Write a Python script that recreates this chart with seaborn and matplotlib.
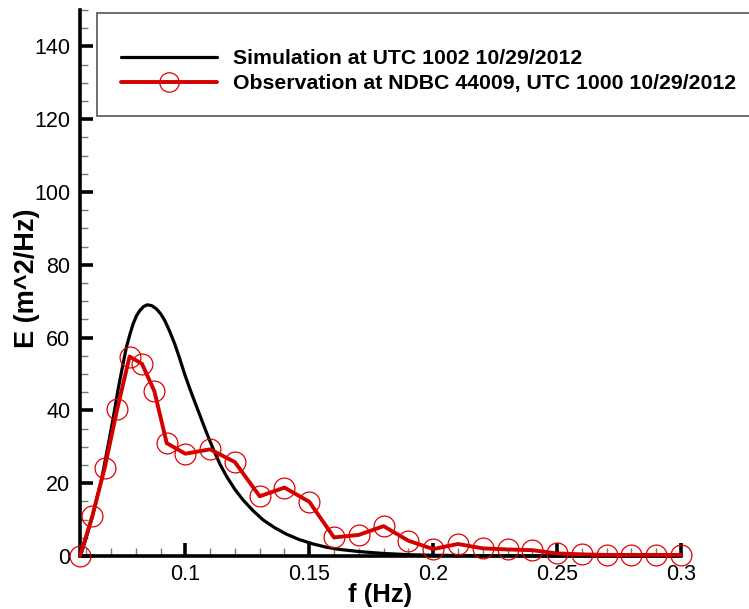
import numpy as np
import pandas as pd
import matplotlib
matplotlib.use("Agg")
import matplotlib.pyplot as plt
import matplotlib.patches as mpatches
import seaborn as sns
from matplotlib.ticker import MultipleLocator

# Observation (NDBC 44009) frequencies and energies
obs_f = [0.0575, 0.0625, 0.0675, 0.0725, 0.0775, 0.0825, 0.0875, 0.0925,
         0.10, 0.11, 0.12, 0.13, 0.14, 0.15, 0.16, 0.17, 0.18, 0.19, 0.20,
         0.21, 0.22, 0.23, 0.24, 0.25, 0.26, 0.27, 0.28, 0.29, 0.30]
obs_E = [0.0, 11.0, 24.3, 40.3, 54.8, 52.8, 45.3, 31.0,
         28.1, 29.3, 25.8, 16.4, 18.8, 14.9, 5.1, 5.8, 8.2, 4.2, 1.9,
         3.3, 2.1, 1.8, 1.6, 0.7, 0.45, 0.3, 0.3, 0.3, 0.3]

# Simulation curve
sim_f = [0.0577, 0.0600, 0.0621, 0.0641, 0.0661, 0.0678, 0.0695, 0.0712,
         0.0728, 0.0745, 0.0762, 0.0776, 0.0789, 0.0803, 0.0816, 0.0831,
         0.0846, 0.0864, 0.0883, 0.0900, 0.0917, 0.0937, 0.0957, 0.0977,
         0.0997, 0.1020, 0.1040, 0.1059, 0.1086, 0.1113, 0.1140, 0.1167,
         0.1200, 0.1234, 0.1274, 0.1314, 0.1360, 0.1408, 0.1460, 0.1516,
         0.1570, 0.1623, 0.1704, 0.1800, 0.1905, 0.2000, 0.2200, 0.2500,
         0.2800, 0.3000]
sim_E = [0.0, 5.0, 9.9, 15.3, 20.8, 26.7, 32.7, 39.1,
         45.5, 51.5, 57.3, 60.8, 63.7, 66.0, 67.4, 68.5,
         69.0, 68.8, 67.9, 66.6, 64.7, 61.7, 58.3, 54.3,
         50.0, 45.6, 42.0, 38.6, 33.8, 29.3, 25.2, 21.8,
         18.3, 15.3, 12.4, 9.9, 7.8, 6.0, 4.5, 3.3,
         2.4, 1.8, 1.2, 0.7, 0.35, 0.2, 0.08, 0.02,
         0.0, 0.0]

sim_label = "Simulation at UTC 1002 10/29/2012"
obs_label = "Observation at NDBC 44009, UTC 1000 10/29/2012"

sns.set_style("ticks")
plt.rcParams['font.family'] = ['Liberation Sans', 'DejaVu Sans']
plt.rcParams.update({"text.color": "black", "axes.labelcolor": "black",
                     "xtick.color": "black", "ytick.color": "black",
                     "xtick.labelcolor": "black", "ytick.labelcolor": "black"})

W, H = 749, 609
fig = plt.figure(figsize=(W / 100, H / 100), dpi=100)
ax = fig.add_axes([80 / W, (H - 556) / H, (681 - 80) / W, (556 - 10) / H])

sim_df = pd.DataFrame({"f": sim_f, "E": sim_E})
obs_df = pd.DataFrame({"f": obs_f, "E": obs_E})

red = "#d40000"
sns.lineplot(data=sim_df, x="f", y="E", ax=ax, color="black", linewidth=2.3,
             label=sim_label, sort=False, clip_on=False, zorder=3)
sns.lineplot(data=obs_df, x="f", y="E", ax=ax, color=red, linewidth=2.8,
             marker="o", markersize=15, markerfacecolor="none",
             markeredgecolor="#e00000", markeredgewidth=0.9,
             label=obs_label, sort=False, clip_on=False, zorder=4)

ax.set_xlim(0.0575, 0.3)
ax.set_ylim(0, 150)
ax.xaxis.set_major_locator(plt.FixedLocator([0.1, 0.15, 0.2, 0.25, 0.3]))
ax.xaxis.set_minor_locator(MultipleLocator(0.01))
ax.yaxis.set_major_locator(MultipleLocator(20))
ax.yaxis.set_minor_locator(MultipleLocator(5))
ax.set_xticklabels(["0.1", "0.15", "0.2", "0.25", "0.3"])

for side in ["top", "right"]:
    ax.spines[side].set_visible(False)
for side in ["left", "bottom"]:
    ax.spines[side].set_linewidth(2.6)
    ax.spines[side].set_color("black")

ax.tick_params(which="major", direction="in", length=9.5, width=2.6,
               labelsize=15.5, color="black", labelcolor="black")
ax.tick_params(which="minor", direction="in", length=6, width=1.0,
               color="#777777")
ax.tick_params(axis="y", which="major", pad=7)
ax.tick_params(axis="x", which="major", pad=6)

ax.set_xlabel("f (Hz)", fontsize=18.5, fontweight="bold", labelpad=-2,
              color="black")
ax.set_ylabel("E (m^2/Hz)", fontsize=19.5, fontweight="bold", color="black")
ax.yaxis.set_label_coords((40 - 80) / 601, (556 - 278) / 546)

# legend frame (extends beyond the right edge of the figure)
frame = mpatches.Rectangle((97 / W, 1 - 116 / H), (800 - 97) / W, (116 - 13) / H,
                           transform=fig.transFigure, facecolor="white",
                           edgecolor="#555555", linewidth=1.2, zorder=5,
                           clip_on=False)
ax.add_patch(frame)

leg = ax.legend(loc="upper left",
                bbox_to_anchor=(115 / W, 1 - 43 / H),
                bbox_transform=fig.transFigure, borderaxespad=0,
                frameon=False, borderpad=0.3,
                handlelength=4.5, handletextpad=0.75, labelspacing=0.28,
                prop={"weight": "bold", "size": 15.3})
leg.set_zorder(6)
for t in leg.get_texts():
    t.set_color("black")
for h in leg.legend_handles:
    if hasattr(h, "set_markersize"):
        h.set_markersize(14)

fig.savefig("out.png", dpi=100)
